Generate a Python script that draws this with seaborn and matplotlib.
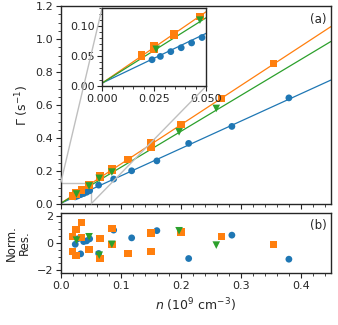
import numpy as np
import pandas as pd
import seaborn as sns
import matplotlib.pyplot as plt
from matplotlib.ticker import MultipleLocator
from mpl_toolkits.axes_grid1.inset_locator import mark_inset

# data
blue_n = [0.024, 0.028, 0.033, 0.038, 0.043, 0.048, 0.063, 0.088, 0.118, 0.160, 0.213, 0.285, 0.380]
blue_rate = [0.044, 0.0495, 0.0575, 0.064, 0.072, 0.081, 0.115, 0.152, 0.202, 0.262, 0.368, 0.471, 0.644]
blue_res = [-0.1, 0.3, -0.8, 0.1, 0.15, 0.3, -0.77, 0.94, 0.37, 0.9, -1.14, 0.57, -1.19]

orange_n = [0.019, 0.019, 0.025, 0.025, 0.0345, 0.0345, 0.047, 0.065, 0.065, 0.085, 0.085,
            0.112, 0.150, 0.150, 0.200, 0.268, 0.354]
orange_rate = [0.052, 0.049, 0.067, 0.061, 0.088, 0.085, 0.116, 0.172, 0.160, 0.212, 0.205,
               0.270, 0.372, 0.347, 0.483, 0.642, 0.852]
orange_res = [0.45, -0.65, 1.0, -0.9, 1.48, 0.4, -0.48, 0.33, -1.14, 1.07, -0.1,
              -0.77, 0.74, -0.65, 0.79, 0.45, -0.11]

green_n = [0.026, 0.047, 0.064, 0.085, 0.197, 0.259]
green_rate = [0.0614, 0.110, 0.156, 0.194, 0.438, 0.580]
green_res = [0.2, 0.45, -0.9, -0.1, 0.89, -0.16]

# linear fits (slope, intercept)
fit_blue = (1.66, 0.005)
fit_orange = (2.38, 0.005)
fit_green = (2.18, 0.005)

sns.set_theme(style="ticks")
plt.rcParams['font.family'] = ['DejaVu Sans']
plt.rcParams['axes.linewidth'] = 1.0
pal = sns.color_palette("tab10")

series = [
    ("blue", blue_n, blue_rate, blue_res, fit_blue, "o", pal[0], 24),
    ("orange", orange_n, orange_rate, orange_res, fit_orange, "s", pal[1], 28),
    ("green", green_n, green_rate, green_res, fit_green, "v", pal[2], 30),
]

fig = plt.figure(figsize=(3.38, 3.25), dpi=100)
ax = fig.add_axes([0.180, 0.372, 0.799, 0.609])
axr = fig.add_axes([0.180, 0.160, 0.799, 0.185], sharex=ax)
axin = fig.add_axes([0.302, 0.735, 0.308, 0.240])

xgrid = np.linspace(0, 0.45, 50)
for name, n, rate, res, fit, mk, col, s in series:
    line = pd.DataFrame({"n": xgrid, "rate": fit[0] * xgrid + fit[1]})
    pts = pd.DataFrame({"n": n, "rate": rate, "res": res})
    for a in (ax, axin):
        sns.lineplot(data=line, x="n", y="rate", ax=a, color=col, lw=0.9)
        sns.scatterplot(data=pts, x="n", y="rate", ax=a, color=col, marker=mk,
                        s=s, edgecolor="none", zorder=3)
    sns.scatterplot(data=pts, x="n", y="res", ax=axr, color=col, marker=mk,
                    s=s, edgecolor="none", zorder=3)

ax.set_xlim(0, 0.45)
ax.set_ylim(0, 1.2)
ax.yaxis.set_major_locator(MultipleLocator(0.2))
ax.yaxis.set_minor_locator(MultipleLocator(0.05))
ax.xaxis.set_major_locator(MultipleLocator(0.1))
ax.xaxis.set_minor_locator(MultipleLocator(0.02))
ax.tick_params(labelbottom=False)
ax.set_xlabel("")
ax.set_ylabel(r"$\Gamma$ (s$^{-1}$)", fontsize=9, labelpad=3)
ax.text(0.985, 0.965, "(a)", transform=ax.transAxes, ha="right", va="top", fontsize=8.5)

axr.set_ylim(-2.2, 2.2)
axr.yaxis.set_major_locator(MultipleLocator(2))
axr.yaxis.set_minor_locator(MultipleLocator(0.5))
axr.set_xlabel(r"$n$ (10$^9$ cm$^{-3}$)", fontsize=9)
axr.set_ylabel("Norm.\nRes.", fontsize=8.5, linespacing=1.0)
axr.text(0.985, 0.9, "(b)", transform=axr.transAxes, ha="right", va="top", fontsize=8.5)

axin.set_xlim(0, 0.05)
axin.set_ylim(0, 0.13)
axin.xaxis.set_major_locator(MultipleLocator(0.025))
axin.xaxis.set_minor_locator(MultipleLocator(0.005))
axin.yaxis.set_major_locator(MultipleLocator(0.05))
axin.yaxis.set_minor_locator(MultipleLocator(0.01))
axin.xaxis.set_major_formatter(plt.FormatStrFormatter("%.3f"))
axin.yaxis.set_major_formatter(plt.FormatStrFormatter("%.2f"))
axin.set_xlabel("")
axin.set_ylabel("")
axin.set_facecolor("white")

for a in (ax, axr, axin):
    a.tick_params(which="major", length=3.5, width=0.8, labelsize=8, pad=2)
    a.tick_params(which="minor", length=2, width=0.6)
    for sp in a.spines.values():
        sp.set_visible(True)

mark_inset(ax, axin, loc1=2, loc2=4, fc="none", ec="0.75", lw=1.0)

fig.align_ylabels([ax, axr])
fig.savefig("out.png", dpi=100)
